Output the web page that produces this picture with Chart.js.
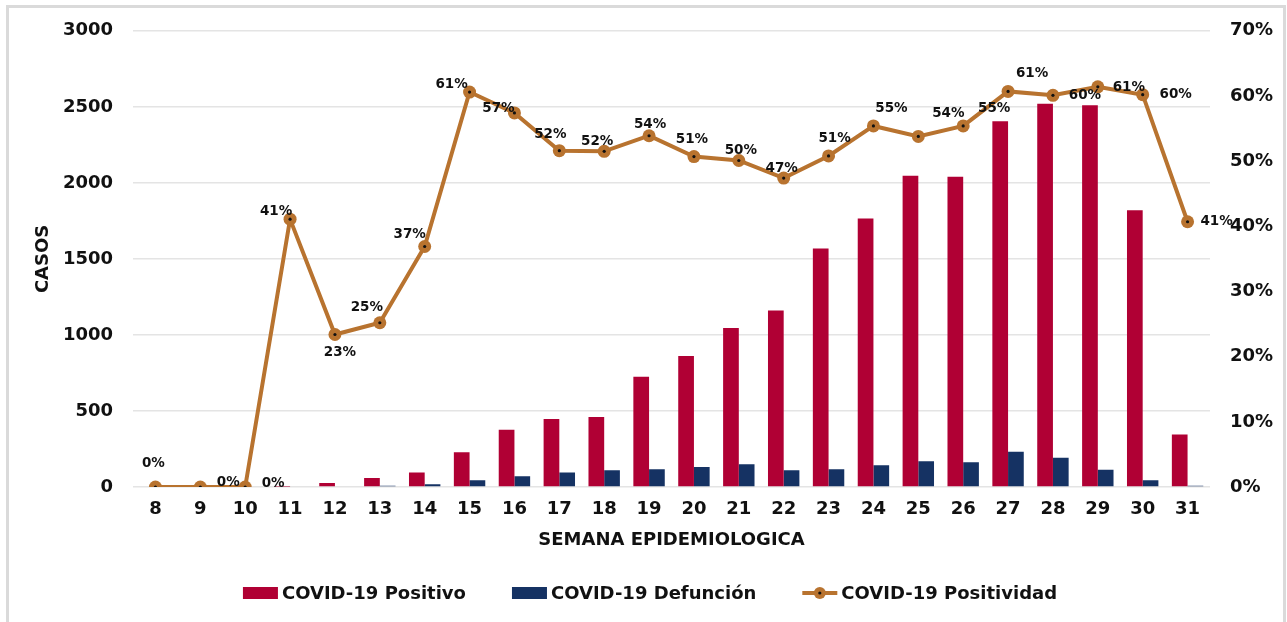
<!DOCTYPE html>
<html>
<head>
<meta charset="utf-8">
<script src="https://cdn.jsdelivr.net/npm/chart.js@4.4.0/dist/chart.umd.min.js"></script>
<style>
  html, body { margin: 0; padding: 0; background: #fff; }
  #frame { position: absolute; left: 6px; top: 5px; width: 1274px; height: 640px;
           border: 3px solid #dadada; border-bottom: none; }
  #wrap { position: absolute; left: 0; top: 0; width: 1287px; height: 622px; }
</style>
</head>
<body>
<div id="frame"></div>
<div id="wrap"><canvas id="chart"></canvas></div>
<script>
var semanas = ['8','9','10','11','12','13','14','15','16','17','18','19','20','21','22','23','24','25','26','27','28','29','30','31'];
var positivos = [0, 0, 0, 2, 26, 59, 96, 228, 377, 447, 460, 725, 862, 1045, 1160, 1568, 1765, 2046, 2040, 2405, 2520, 2510, 1820, 346];
var defunciones = [0, 0, 0, 0, 5, 8, 18, 44, 70, 96, 110, 116, 132, 149, 110, 116, 143, 169, 162, 232, 193, 114, 44, 9];
var positividad = [0, 0, 0, 41.1, 23.4, 25.2, 36.9, 60.6, 57.4, 51.6, 51.5, 53.9, 50.7, 50.1, 47.4, 50.8, 55.4, 53.8, 55.4, 60.7, 60.1, 61.4, 60.2, 40.7];
var casosTicks = [0, 500, 1000, 1500, 2000, 2500, 3000];
var pctTicks = [0, 10, 20, 30, 40, 50, 60, 70];

var ROJO = '#b00034', AZUL = '#153263', COBRE = '#b8732f';
var FONT = "'DejaVu Sans', sans-serif";

// where each % label sits relative to its point
var labelOffsets = [[-2,-24],[28,-5],[28,-4],[-14,-8],[5,18],[-13,-15],[-15,-12],[-18,-8],[-16,-4],[-9,-16],
  [-7,-10],[1,-11],[-2,-17],[2,-10],[-2,-10],[6,-17],[18,-17],[30,-23],[31,-17],[24,-18],[32,0],[31,1],[33,0],[29,0]];

var pctLabels = {
  id: 'pctLabels',
  afterDatasetsDraw: function (chart) {
    var ctx = chart.ctx, meta = chart.getDatasetMeta(2);
    ctx.save();
    ctx.font = 'bold 13.5px ' + FONT;
    ctx.fillStyle = '#111';
    ctx.textAlign = 'center';
    ctx.textBaseline = 'middle';
    meta.data.forEach(function (pt, i) {
      var o = labelOffsets[i];
      ctx.fillText(Math.round(positividad[i]) + '%', pt.x + o[0], pt.y + o[1]);
    });
    ctx.restore();
  }
};

var legendaAbajo = {
  id: 'legendaAbajo',
  afterDraw: function (chart) {
    var ctx = chart.ctx, y = 593;
    var items = [
      { t: 'COVID-19 Positivo', c: ROJO, kind: 'box' },
      { t: 'COVID-19 Defunción', c: AZUL, kind: 'box' },
      { t: 'COVID-19 Positividad', c: COBRE, kind: 'line' }
    ];
    ctx.save();
    ctx.font = 'bold 18px ' + FONT;
    ctx.textBaseline = 'middle';
    var boxW = 35, gap = 4, sep = 46, total = 0;
    items.forEach(function (it) { it.w = boxW + gap + ctx.measureText(it.t).width; total += it.w; });
    total += sep * (items.length - 1);
    var x = 650 - total / 2;
    items.forEach(function (it) {
      if (it.kind === 'box') {
        ctx.fillStyle = it.c;
        ctx.fillRect(x, y - 6, boxW, 12);
      } else {
        ctx.strokeStyle = it.c; ctx.lineWidth = 4;
        ctx.beginPath(); ctx.moveTo(x, y); ctx.lineTo(x + boxW, y); ctx.stroke();
        ctx.fillStyle = it.c;
        ctx.beginPath(); ctx.arc(x + boxW / 2, y, 6, 0, Math.PI * 2); ctx.fill();
        ctx.fillStyle = '#111';
        ctx.beginPath(); ctx.arc(x + boxW / 2, y, 1.6, 0, Math.PI * 2); ctx.fill();
      }
      ctx.fillStyle = '#111';
      ctx.fillText(it.t, x + boxW + gap, y + 1);
      x += it.w + sep;
    });
    ctx.restore();
  }
};

var ctx = document.getElementById('chart').getContext('2d');
var chart = new Chart(ctx, {
  type: 'bar',
  data: {
    labels: semanas,
    datasets: [{
      label: 'COVID-19 Positivo',
      data: positivos,
      backgroundColor: ROJO,
      yAxisID: 'y',
      order: 2
    }, {
      label: 'COVID-19 Defunción',
      data: defunciones,
      backgroundColor: AZUL,
      yAxisID: 'y',
      order: 2
    }, {
      type: 'line',
      label: 'COVID-19 Positividad',
      data: positividad,
      borderColor: COBRE,
      backgroundColor: COBRE,
      borderWidth: 4,
      pointRadius: 6.5,
      pointBorderWidth: 0,
      pointBackgroundColor: COBRE,
      yAxisID: 'y1',
      order: 1
    }, {
      type: 'line',
      label: 'puntos',
      data: positividad,
      showLine: false,
      pointRadius: 1.6,
      pointBorderWidth: 0,
      pointBackgroundColor: '#111',
      yAxisID: 'y1',
      order: 0
    }]
  },
  options: {
    responsive: true,
    maintainAspectRatio: false,
    animation: false,
    layout: { padding: { top: 16, bottom: 55, left: 0, right: 0 } },
    datasets: { bar: { categoryPercentage: 0.7, barPercentage: 1.0 } },
    plugins: { legend: { display: false }, tooltip: { enabled: false } },
    scales: {
      x: {
        grid: { display: false, drawTicks: false },
        border: { display: false },
        ticks: { color: '#111', font: { family: FONT, size: 18, weight: 'bold' }, padding: 12 },
        title: { display: true, text: 'SEMANA EPIDEMIOLOGICA', color: '#111',
                 font: { family: FONT, size: 18, weight: 'bold' }, padding: { bottom: 16 } },
        afterFit: function (s) { s.height = 80; }
      },
      y: {
        position: 'left',
        min: 0, max: 3000,
        afterBuildTicks: function (s) { s.ticks = casosTicks.map(function (v) { return { value: v }; }); },
        grid: { color: '#e4e4e4', lineWidth: 1.5, drawTicks: false },
        border: { display: false },
        ticks: { color: '#111', font: { family: FONT, size: 18, weight: 'bold' }, padding: 20,
                 callback: function (v) { return String(v); } },
        title: { display: true, text: 'CASOS', color: '#111',
                 font: { family: FONT, size: 18, weight: 'bold' }, padding: { top: 33 } },
        afterFit: function (s) { s.width = 133; }
      },
      y1: {
        position: 'right',
        min: 0, max: 70,
        afterBuildTicks: function (s) { s.ticks = pctTicks.map(function (v) { return { value: v }; }); },
        grid: { display: false, drawTicks: false },
        border: { display: false },
        ticks: { color: '#111', font: { family: FONT, size: 18, weight: 'bold' }, padding: 20,
                 callback: function (v) { return v + '%'; } },
        afterFit: function (s) { s.width = 77; }
      }
    }
  },
  plugins: [pctLabels, legendaAbajo]
});
</script>
</body>
</html>
